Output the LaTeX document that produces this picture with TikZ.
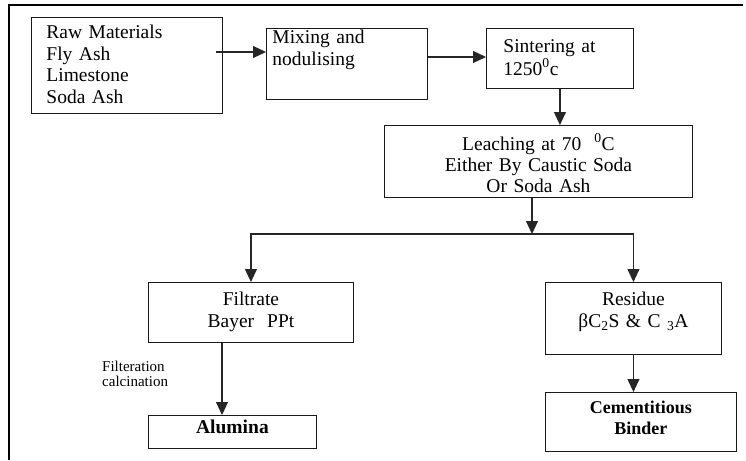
\documentclass[tikz,border=0pt]{standalone}
\usepackage{fontspec}
\setmainfont{Liberation Serif}
\usetikzlibrary{arrows.meta}

\tikzset{
  box/.style={draw=black!90, line width=0.9pt, anchor=north west, inner ysep=0pt, inner xsep=4pt},
  flow/.style={draw=black!85, line width=1.1pt, -{Triangle[length=13pt,width=12pt]}},
  frame/.style={line width=2.2pt}
}
\newcommand{\fsz}[1]{\fontsize{19.5}{#1}\selectfont}

\begin{document}
\begin{tikzpicture}[x=1pt,y=-1pt]
  \useasboundingbox (0,0) rectangle (746,460);
  % ramka
  \draw[frame] (9,460) -- (9,5) -- (743,5);
  % ciag glowny
  \node[box, inner xsep=15pt, text width=161pt, align=left, text height=21pt, text depth=75pt, font=\fsz{21.7}] (raw) at (31,17) {Raw Materials\\Fly Ash\\Limestone\\Soda Ash};
  \node[box, inner xsep=6pt, text width=149pt, align=left, text height=15pt, text depth=56pt, font=\fsz{22}] (mix) at (266,28) {Mixing and\\nodulising};
  \node[box, inner xsep=17pt, text width=113pt, align=left, text height=24pt, text depth=36pt, font=\fsz{23}] (sint) at (486,28) {Sintering at\\1250\textsuperscript{0}c};
  \node[box, text width=300pt, align=center, text height=25pt, text depth=47pt, font=\fsz{21}] (leach) at (384,125) {Leaching at 70 \ \textsuperscript{0}C\\Either By Caustic Soda\\Or Soda Ash};
  % galezie
  \node[box, text width=197pt, align=center, text height=22.7pt, text depth=37.3pt, font=\fsz{22}] (filt) at (148,282) {Filtrate\\Bayer\ \ PPt};
  \node[box, text width=168pt, align=center, text height=22.7pt, text depth=49.3pt, font=\fsz{22}] (res) at (545,282) {Residue\\βC\textsubscript{2}S \& C \textsubscript{3}A};
  \node[box, text width=160pt, align=center, text height=18pt, text depth=15pt, font=\fsz{20}\bfseries] (alum) at (148,415) {Alumina};
  \node[box, text width=183pt, align=center, text height=21pt, text depth=38pt, font=\fontsize{18}{20.6}\selectfont\bfseries] (cem) at (545,392) {Cementitious\\Binder};
  \node[anchor=base west, inner sep=0pt, text width=70pt, align=left, font=\fontsize{15}{15}\selectfont] (calcnote) at (102,371.7) {Filteration\\calcination};
  % strzalki
  \coordinate (split) at (532,234);
  \draw[flow] ([xshift=-7pt]raw.east |- 0,52) -- (mix.west |- 0,52);
  \draw[flow] (mix.east |- 0,57) -- (sint.west |- 0,57);
  \draw[flow] (sint.south) -- (leach.north -| sint.south);
  \draw[flow] (leach.south -| split) -- (split);
  \draw[flow] (split) -| (filt.north);
  \draw[flow] (split) -| (res.north);
  \draw[flow] (filt.south -| 222,0) -- (alum.north -| 222,0);
  \draw[flow] (res.south) -- (res.south |- cem.north);
\end{tikzpicture}
\end{document}
